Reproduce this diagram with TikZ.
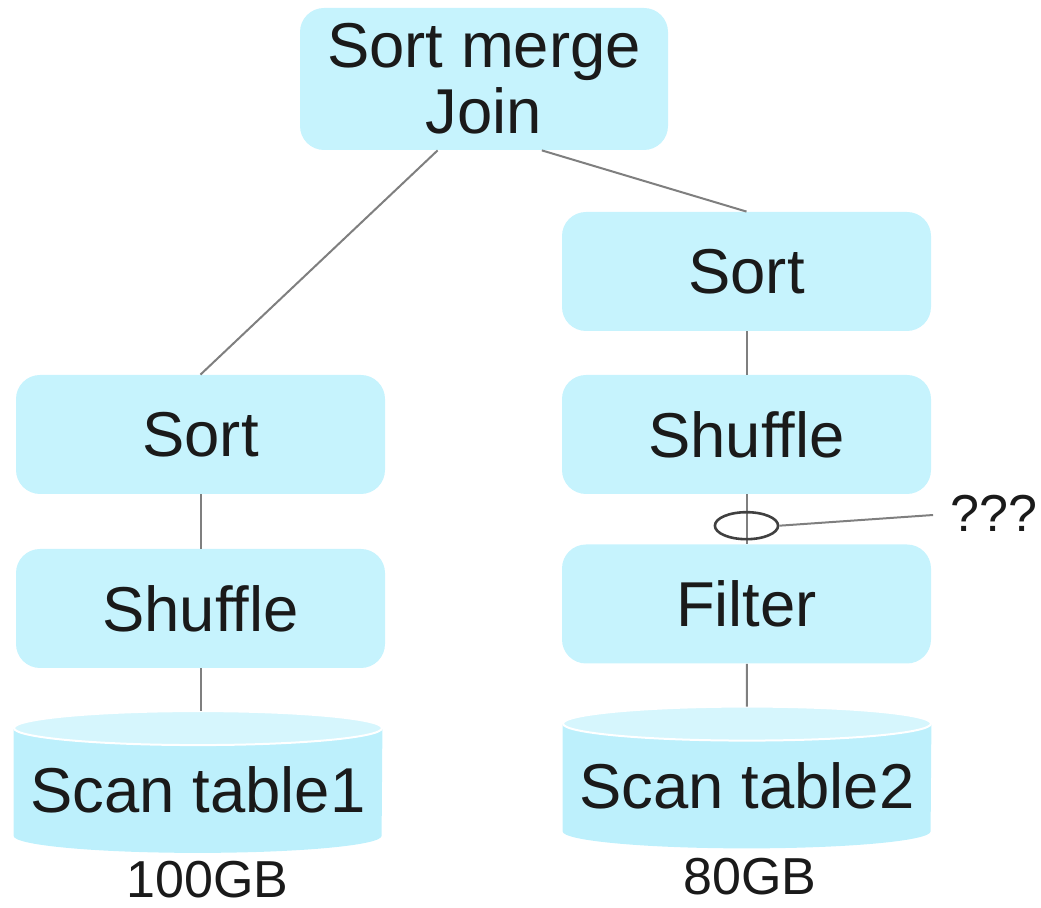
\documentclass[tikz,border=0pt]{standalone}
\usepackage{fontspec}
\setmainfont{Liberation Sans}
\usepackage{tikz}
\usetikzlibrary{positioning,shapes.geometric,backgrounds}

\definecolor{boxfill}{HTML}{C6F3FD}
\definecolor{canbody}{HTML}{BDF0FC}
\definecolor{cantop}{HTML}{D6F6FD}
\definecolor{edgegray}{HTML}{7F7F7F}
\definecolor{tapgray}{HTML}{404040}
\definecolor{inkblack}{HTML}{1A1A1A}

\tikzset{
  opbox/.style={rounded corners=12pt, fill=boxfill, minimum width=184.5pt,
    minimum height=59.5pt, inner sep=0pt, text=inkblack, align=center,
    font=\fontsize{31.7}{33}\selectfont},
  tablecan/.style={minimum width=184pt, minimum height=53.5pt, inner sep=0pt,
    text height=31pt, text depth=0pt, text=inkblack,
    font=\fontsize{31.7}{33}\selectfont},
  sizetext/.style={anchor=base, inner sep=0pt, text=inkblack,
    font=\fontsize{26}{28}\selectfont},
  edge/.style={draw=edgegray, line width=1pt},
  tap/.style={ellipse, draw=tapgray, line width=1.3pt, minimum width=31.6pt,
    minimum height=13.5pt, inner sep=0pt}
}

\begin{document}
\begin{tikzpicture}[x=1pt, y=1pt]
  \useasboundingbox (0,0) rectangle (520.5,454);

  % plan nodes
  \node[opbox, minimum width=184pt, minimum height=71pt] (join) at (242,414.5) {Sort merge\\Join};
  \node[opbox] (sortA) at (100.25,236.75) {Sort};
  \node[opbox] (shufA) at (100.25,149.75) {Shuffle};
  \node[tablecan] (scanA) at (99,63) {Scan table1};
  \node[opbox] (sortB) at (373.25,318.25) {Sort};
  \node[opbox] (shufB) at (373.25,236.75) {Shuffle};
  \node[opbox] (filtB) at (373.25,152) {Filter};
  \node[tablecan] (scanB) at (373.5,65.25) {Scan table2};

  % table sizes
  \node[sizetext] (sizeA) at (103.75,5) {100GB};
  \node[sizetext] (sizeB) at (375,6.5) {80GB};
  \node[sizetext, anchor=base west] (unknown) at (475,188) {???};

  % cylinders behind the scan labels
  \begin{scope}[on background layer]
    \foreach \c in {scanA,scanB} {
      \fill[canbody] (\c.north west) -- (\c.south west)
        arc[start angle=180, end angle=360, x radius=92pt, y radius=8.5pt]
        -- (\c.north east) -- cycle;
      \filldraw[fill=cantop, draw=white, line width=1pt] (\c.north)
        ellipse[x radius=92pt, y radius=8.5pt];
    }
  \end{scope}

  % connectors
  \draw[edge] (join.237) -- (sortA.north);
  \draw[edge] (join.309) -- (sortB.north);
  \draw[edge] (sortA) -- (shufA);
  \draw[edge, shorten >=8.5pt] (shufA.south) -- (shufA.south |- scanA.north);
  \draw[edge] (sortB) -- (shufB);
  \draw[edge] (shufB) -- (filtB) node[tap, pos=0.63] (probe) {};
  \draw[edge, shorten >=8.5pt] (filtB) -- (scanB.north);
  \draw[edge, shorten >=8.5pt] (probe.east) -- (unknown.west);
\end{tikzpicture}
\end{document}
